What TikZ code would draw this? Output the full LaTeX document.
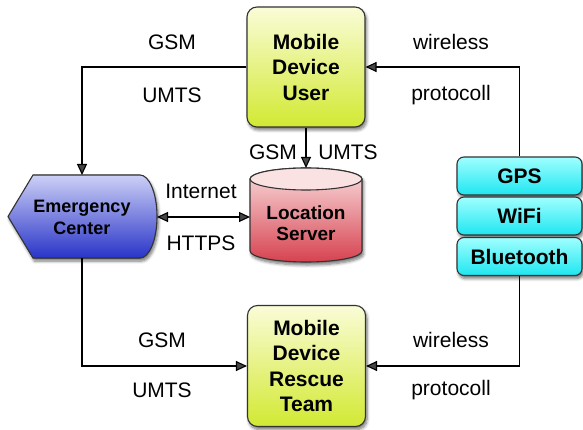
\documentclass[tikz,border=0pt]{standalone}
\usepackage{fontspec}
\setmainfont{Liberation Sans}
\usetikzlibrary{arrows.meta,shadows.blur,calc}
\begin{document}
\begin{tikzpicture}[x=1pt,y=-1pt,
  lbl/.style={font=\fontsize{21}{25}\selectfont, inner sep=0pt},
  boxtxt/.style={font=\bfseries\fontsize{21}{25.5}\selectfont, align=center},
  shad/.style={blur shadow={shadow xshift=1.5pt, shadow yshift=-3pt, shadow blur steps=6, shadow blur radius=3pt, shadow opacity=55}},
  greenbox/.style={boxtxt, draw=black!80, line width=1.1pt, rounded corners=10pt, top color={rgb,255:red,250;green,252;blue,215}, bottom color={rgb,255:red,210;green,233;blue,50}, shad, minimum width=118pt, inner sep=0pt},
  cyanbox/.style={boxtxt, draw=black!80, line width=1.1pt, rounded corners=7pt, top color={rgb,255:red,160;green,255;blue,255}, bottom color={rgb,255:red,30;green,230;blue,240}, shad, minimum width=125pt, minimum height=38pt, inner sep=0pt},
  arr/.style={line width=1.1pt, -{Triangle[length=11pt,width=10pt]}},
  darr/.style={line width=1.1pt, {Triangle[length=11pt,width=10pt]}-{Triangle[length=11pt,width=10pt]}},
  ln/.style={line width=1.1pt}
]
\useasboundingbox (0,0) rectangle (583,430);

% Mobile Device User
\node[greenbox, minimum height=120pt] (user) at (306,67) {Mobile\\Device\\User};
% Mobile Device Rescue Team
\node[greenbox, minimum height=121pt] (rescue) at (306.5,366) {Mobile\\Device\\Rescue\\Team};

% Stack
\node[cyanbox] (gps) at (519.5,176) {GPS};
\node[cyanbox] (wifi) at (519.5,216) {WiFi};
\node[cyanbox] (bt) at (519.5,256.5) {Bluetooth};

% Emergency Center shape
\filldraw[draw=black!80, line width=1.1pt, top color={rgb,255:red,205;green,208;blue,246}, bottom color={rgb,255:red,40;green,52;blue,200}, shad]
  (33,175) -- (140,175) arc[start angle=90, end angle=-90, x radius=17pt, y radius=41.5pt]
  -- (33,258) -- (8,216.5) -- cycle;
\node[boxtxt, font=\bfseries\fontsize{18}{22}\selectfont] (ec) at (82,217) {Emergency\\Center};
\coordinate (ectop) at (82,175);
\coordinate (ecbot) at (82,258);
\coordinate (ecright) at (157,217);

% Location Server cylinder
\filldraw[draw=black!80, line width=1.1pt, top color={rgb,255:red,250;green,222;blue,222}, bottom color={rgb,255:red,214;green,66;blue,80}, shad]
  (250,179) -- (250,251) arc[start angle=180, end angle=360, x radius=56pt, y radius=11pt]
  -- (362,179) arc[start angle=0, end angle=180, x radius=56pt, y radius=11pt] -- cycle;
\filldraw[draw=black!80, line width=1.1pt, fill={rgb,255:red,250;green,226;blue,226}]
  (306,179) ellipse[x radius=56pt, y radius=11pt];
\node[boxtxt, font=\bfseries\fontsize{19}{21}\selectfont] (ls) at (306,223) {Location\\Server};
\coordinate (lstop) at (306,168);
\coordinate (lsleft) at (250,217);

% Connectors
\draw[arr] (user.west) -| (ectop);
\draw[arr] (ecbot) |- (rescue.west);
\draw[arr] (gps.north) |- (user.east);
\draw[arr] (bt.south) |- (rescue.east);
\draw[arr] (user.south) -- (lstop);
\draw[darr] (ecright) -- (lsleft);

% Labels
\node[lbl] (l1) at (172,42) {GSM};
\node[lbl] (l2) at (172,95) {UMTS};
\node[lbl] (l3) at (451,42) {wireless};
\node[lbl] (l4) at (451,95) {protocoll};
\node[lbl] (l5) at (273,152) {GSM};
\node[lbl] (l6) at (348,152) {UMTS};
\node[lbl] (l7) at (201,191) {Internet};
\node[lbl] (l8) at (201,243) {HTTPS};
\node[lbl] (l9) at (162,340) {GSM};
\node[lbl] (l10) at (162,390) {UMTS};
\node[lbl] (l11) at (451,340) {wireless};
\node[lbl] (l12) at (451,390) {protocoll};
\end{tikzpicture}
\end{document}
